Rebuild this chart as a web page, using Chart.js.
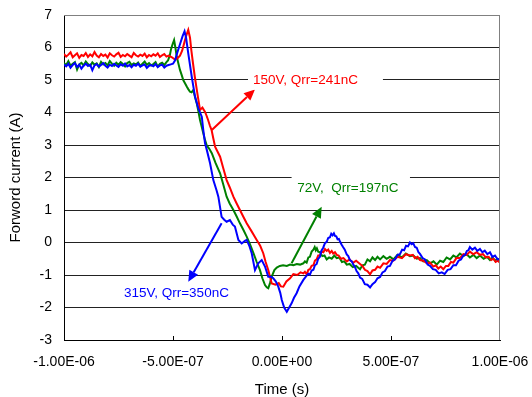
<!DOCTYPE html>
<html lang="en">
<head>
<meta charset="UTF-8">
<title>Forword current</title>
<script src="https://cdn.jsdelivr.net/npm/chart.js@4"></script>
<style>
  html, body { margin: 0; padding: 0; background: #fff; }
  canvas { display: block; }
</style>
</head>
<body>
<canvas id="chart" width="532" height="397"></canvas>
<script>
// time in ns, current in A
const xTicks = [-1000, -500, 0, 500, 1000];
const xMarks = [-500, 0, 500];
const yMin = -3, yMax = 7;

const blue315 = [
  [-1000,5.48],[-990,5.42],[-980,5.50],[-970,5.38],[-960,5.46],[-950,5.52],[-940,5.40],[-930,5.47],[-920,5.35],[-910,5.44],
  [-900,5.50],[-890,5.43],[-880,5.47],[-870,5.30],[-860,5.45],[-850,5.49],[-840,5.41],[-830,5.46],[-820,5.52],[-810,5.44],
  [-800,5.38],[-790,5.47],[-780,5.43],[-770,5.50],[-760,5.45],[-750,5.40],[-740,5.48],[-730,5.44],[-720,5.51],[-710,5.42],
  [-700,5.46],[-690,5.39],[-680,5.47],[-670,5.44],[-660,5.50],[-650,5.41],[-640,5.45],[-630,5.48],[-620,5.37],[-610,5.44],
  [-600,5.46],[-590,5.42],[-580,5.49],[-570,5.40],[-560,5.45],[-550,5.47],[-540,5.38],[-530,5.44],[-520,5.46],[-510,5.48],
  [-500,5.50],[-491,5.60],[-480,5.85],[-468,6.10],[-456,6.35],[-447,6.50],[-440,6.30],[-430,5.82],[-414,5.10],[-399,4.49],
  [-384,4.13],[-368,3.87],[-361,3.46],[-353,3.05],[-345,2.85],[-330,2.44],[-315,1.92],[-300,1.60],[-292,1.41],[-277,0.79],
  [-265,0.70],[-254,0.64],[-239,0.69],[-226,0.55],[-216,0.49],[-200,0.08],[-185,-0.03],[-170,0.05],[-162,0.08],[-150,-0.10],
  [-139,-0.33],[-124,-0.85],[-109,-0.64],[-93,-0.54],[-78,-0.74],[-63,-1.05],[-50,-1.05],[-40,-1.10],[-28,-1.20],[-17,-1.36],
  [-8,-1.55],[-1,-1.77],[10,-2.00],[22,-2.13],[33,-2.00],[44,-1.87],[55,-1.70],[67,-1.56],[80,-1.35],[98,-1.15],
  [113,-1.02],[121,-0.96],[128,-0.99],[136,-0.86],[144,-0.84],[151,-0.70],[159,-0.66],[166,-0.50],[174,-0.44],[181,-0.25],
  [189,-0.16],[197,-0.02],[205,0.02],[212,0.14],[220,0.16],[226,0.27],[232,0.22],[238,0.28],[243,0.20],[249,0.19],
  [255,0.10],[261,0.11],[266,0.03],[273,-0.06],[280,-0.14],[288,-0.22],[297,-0.37],[304,-0.42],[312,-0.55],[320,-0.58],
  [327,-0.68],[335,-0.76],[342,-0.88],[350,-0.95],[358,-1.08],[368,-1.12],[380,-1.28],[392,-1.30],[404,-1.38],[415,-1.28],
  [427,-1.22],[438,-1.10],[450,-1.06],[461,-0.92],[472,-0.88],[484,-0.74],[495,-0.72],[507,-0.56],[518,-0.52],[530,-0.38],
  [541,-0.36],[551,-0.22],[560,-0.24],[569,-0.10],[578,-0.12],[587,0.00],[595,-0.05],[602,-0.02],[610,-0.14],[618,-0.16],
  [626,-0.30],[633,-0.35],[645,-0.48],[656,-0.52],[668,-0.68],[679,-0.72],[692,-0.82],[705,-0.84],[719,-0.95],[733,-0.92],
  [746,-0.97],[760,-0.84],[773,-0.82],[786,-0.70],[798,-0.70],[810,-0.56],[821,-0.52],[832,-0.40],[840,-0.38],[848,-0.26],
  [855,-0.24],[862,-0.14],[873,-0.22],[885,-0.16],[896,-0.26],[908,-0.20],[919,-0.30],[930,-0.25],[942,-0.36],[954,-0.30],
  [965,-0.44],[977,-0.40],[989,-0.52],[1000,-0.50]
];

const red150 = [
  [-1000,5.80],[-990,5.72],[-980,5.78],[-970,5.85],[-960,5.70],[-950,5.76],[-940,5.82],[-930,5.68],[-920,5.77],[-910,5.74],
  [-900,5.83],[-890,5.71],[-880,5.79],[-870,5.73],[-860,5.86],[-850,5.75],[-840,5.70],[-830,5.80],[-820,5.74],[-810,5.78],
  [-800,5.69],[-790,5.82],[-780,5.76],[-770,5.72],[-760,5.79],[-750,5.84],[-740,5.71],[-730,5.77],[-720,5.73],[-710,5.80],
  [-700,5.75],[-690,5.70],[-680,5.83],[-670,5.76],[-660,5.72],[-650,5.78],[-640,5.74],[-630,5.81],[-620,5.70],[-610,5.77],
  [-600,5.73],[-590,5.79],[-580,5.75],[-570,5.82],[-560,5.71],[-550,5.76],[-540,5.80],[-530,5.72],
  [-520,5.75],[-505,5.70],[-490,5.62],[-478,5.68],[-468,5.75],[-458,5.90],[-448,6.15],[-440,6.35],[-430,6.54],[-422,6.30],
  [-416,5.92],[-408,5.50],[-400,5.10],[-392,4.75],[-385,4.45],[-376,4.08],[-365,4.15],[-353,4.02],[-346,3.90],[-339,3.77],
  [-331,3.60],[-323,3.46],[-315,3.20],[-307,2.95],[-296,2.80],[-284,2.64],[-270,2.30],[-254,1.92],[-240,1.70],[-223,1.41],
  [-208,1.20],[-193,1.00],[-178,0.80],[-162,0.59],[-140,0.35],[-116,0.08],[-100,-0.10],[-86,-0.33],[-75,-0.60],[-63,-0.85],
  [-47,-1.26],[-30,-1.30],[-15,-1.25],[-5,-1.35],[6,-1.36],[20,-1.20],[37,-1.10],[52,-0.97],[70,-1.00],[85,-0.92],
  [98,-0.95],[105,-0.90],[113,-0.98],[121,-0.84],[128,-0.82],[136,-0.72],[144,-0.70],[151,-0.56],[159,-0.52],[166,-0.40],
  [174,-0.40],[182,-0.28],[190,-0.30],[197,-0.20],[205,-0.26],[212,-0.22],[220,-0.32],[228,-0.26],[235,-0.34],[243,-0.30],
  [251,-0.38],[260,-0.40],[270,-0.50],[282,-0.48],[297,-0.58],[310,-0.52],[327,-0.62],[340,-0.56],[358,-0.66],[369,-0.72],
  [380,-0.84],[392,-0.88],[404,-0.98],[415,-0.86],[427,-0.84],[438,-0.74],[450,-0.78],[465,-0.64],[480,-0.66],[495,-0.54],
  [511,-0.56],[530,-0.44],[550,-0.48],[568,-0.36],[587,-0.40],[600,-0.38],[610,-0.48],[622,-0.44],[633,-0.54],[648,-0.56],
  [664,-0.64],[679,-0.62],[694,-0.74],[705,-0.70],[717,-0.80],[728,-0.74],[740,-0.82],[752,-0.72],[763,-0.72],[775,-0.60],
  [786,-0.62],[800,-0.48],[816,-0.48],[832,-0.36],[847,-0.38],[862,-0.28],[878,-0.36],[893,-0.30],[908,-0.38],[922,-0.36],
  [935,-0.46],[948,-0.44],[960,-0.54],[970,-0.50],[980,-0.60],[990,-0.56],[1000,-0.62]
];

const green72 = [
  [-1000,5.52],[-990,5.46],[-980,5.58],[-970,5.44],[-960,5.50],[-950,5.55],[-940,5.32],[-930,5.48],[-920,5.53],[-910,5.45],
  [-900,5.57],[-890,5.49],[-880,5.43],[-870,5.54],[-860,5.47],[-850,5.51],[-840,5.40],[-830,5.56],[-820,5.48],[-810,5.52],
  [-800,5.45],[-790,5.58],[-780,5.50],[-770,5.44],[-760,5.53],[-750,5.47],[-740,5.55],[-730,5.49],[-720,5.42],[-710,5.52],
  [-700,5.56],[-690,5.46],[-680,5.51],[-670,5.48],[-660,5.54],[-650,5.43],[-640,5.50],[-630,5.57],[-620,5.47],[-610,5.52],
  [-600,5.45],[-590,5.49],[-580,5.55],[-570,5.41],[-560,5.50],[-550,5.53],[-540,5.46],[-530,5.55],
  [-523,5.60],[-515,5.75],[-509,5.95],[-502,6.10],[-495,6.23],[-489,6.00],[-483,5.72],[-475,5.50],[-468,5.31],[-460,5.15],
  [-453,5.00],[-445,4.90],[-437,4.80],[-430,4.72],[-422,4.64],[-415,4.62],[-407,4.69],[-400,4.50],[-391,4.28],[-384,4.05],
  [-376,3.77],[-368,3.55],[-361,3.36],[-353,3.15],[-345,2.98],[-335,2.90],[-322,2.75],[-305,2.45],[-284,2.13],[-270,1.80],
  [-254,1.41],[-240,1.20],[-223,1.00],[-208,0.80],[-193,0.59],[-178,0.40],[-162,0.18],[-147,-0.05],[-131,-0.33],[-116,-0.60],
  [-101,-0.85],[-90,-1.10],[-78,-1.31],[-70,-1.38],[-63,-1.41],[-55,-1.25],[-47,-1.05],[-35,-0.85],[-24,-0.77],[-10,-0.72],
  [5,-0.70],[22,-0.72],[37,-0.68],[52,-0.70],[68,-0.66],[83,-0.68],[98,-0.64],[105,-0.58],[113,-0.62],[121,-0.46],
  [128,-0.44],[136,-0.28],[144,-0.22],[150,-0.14],[155,-0.24],[160,-0.18],[166,-0.28],[175,-0.30],[185,-0.42],[195,-0.40],
  [205,-0.52],[216,-0.46],[228,-0.50],[240,-0.40],[251,-0.48],[263,-0.46],[275,-0.60],[286,-0.58],[297,-0.68],[310,-0.66],
  [325,-0.76],[340,-0.72],[358,-0.82],[369,-0.70],[380,-0.68],[392,-0.52],[404,-0.58],[415,-0.46],[427,-0.54],[438,-0.44],
  [450,-0.52],[465,-0.42],[480,-0.50],[495,-0.44],[511,-0.52],[530,-0.38],[550,-0.46],[568,-0.34],[587,-0.42],[603,-0.40],
  [618,-0.50],[633,-0.48],[648,-0.58],[664,-0.54],[680,-0.64],[695,-0.58],[710,-0.68],[725,-0.56],[740,-0.60],[755,-0.46],
  [771,-0.52],[786,-0.40],[800,-0.46],[816,-0.34],[832,-0.42],[847,-0.36],[862,-0.46],[878,-0.38],[893,-0.48],[908,-0.40],
  [925,-0.50],[940,-0.44],[954,-0.54],[966,-0.46],[977,-0.56],[989,-0.50],[1000,-0.58]
];

// callouts, in data units (ns, A)
const notes = [
  { text: '150V, Qrr=241nC', color: '#ff0000', at: [-133, 5.0], box: [-156, 463, 5.3, 4.7], from: [-322, 3.46], to: [-124, 4.71] },
  { text: '72V,  Qrr=197nC', color: '#008000', at: [70, 1.67], box: [44, 587, 2.12, 1.25], from: [44, -0.64], to: [182, 1.1] },
  { text: '315V, Qrr=350nC', color: '#0000ff', at: [-725, -1.56], box: null, from: [-277, 0.59], to: [-430, -1.21] }
];

const FONT = "'Liberation Sans', Arial, sans-serif";

function sci(v) {
  if (v === 0) return '0.00E+00';
  const s = v * 1e-9;
  const e = Math.floor(Math.log10(Math.abs(s)) + 1e-9);
  const m = s / Math.pow(10, e);
  const ee = String(Math.abs(e)).padStart(2, '0');
  return m.toFixed(2) + 'E' + (e < 0 ? '-' : '+') + ee;
}

function arrow(ctx, x0, y0, x1, y1, color) {
  const ang = Math.atan2(y1 - y0, x1 - x0);
  const head = 11, half = 5;
  const bx = x1 - head * Math.cos(ang), by = y1 - head * Math.sin(ang);
  ctx.strokeStyle = color;
  ctx.fillStyle = color;
  ctx.lineWidth = 2;
  ctx.beginPath();
  ctx.moveTo(x0, y0);
  ctx.lineTo(bx, by);
  ctx.stroke();
  ctx.beginPath();
  ctx.moveTo(x1, y1);
  ctx.lineTo(bx + half * Math.sin(ang), by - half * Math.cos(ang));
  ctx.lineTo(bx - half * Math.sin(ang), by + half * Math.cos(ang));
  ctx.closePath();
  ctx.fill();
}

const extras = {
  id: 'extras',
  afterDatasetsDraw(chart) {
    const { ctx, chartArea: a, scales: { x, y } } = chart;
    ctx.save();

    // grey frame on top and right
    ctx.strokeStyle = '#808080';
    ctx.lineWidth = 1;
    ctx.beginPath();
    ctx.moveTo(a.left, a.top + 0.5);
    ctx.lineTo(a.right - 0.5, a.top + 0.5);
    ctx.lineTo(a.right - 0.5, a.bottom);
    ctx.stroke();

    // small inward tick marks on the time axis
    ctx.strokeStyle = '#000';
    xMarks.forEach(v => {
      const px = Math.round(x.getPixelForValue(v)) + 0.5;
      ctx.beginPath();
      ctx.moveTo(px, a.bottom);
      ctx.lineTo(px, a.bottom - 4);
      ctx.stroke();
    });

    ctx.font = '13.5px ' + FONT;
    ctx.textBaseline = 'middle';
    ctx.textAlign = 'left';
    notes.forEach(n => {
      arrow(ctx, x.getPixelForValue(n.from[0]), y.getPixelForValue(n.from[1]),
        x.getPixelForValue(n.to[0]), y.getPixelForValue(n.to[1]), n.color);
      if (n.box) {
        const l = x.getPixelForValue(n.box[0]), r = x.getPixelForValue(n.box[1]);
        const t = y.getPixelForValue(n.box[2]), b = y.getPixelForValue(n.box[3]);
        ctx.fillStyle = '#fff';
        ctx.fillRect(l, t, r - l, b - t);
      }
      ctx.fillStyle = n.color;
      ctx.fillText(n.text, x.getPixelForValue(n.at[0]), y.getPixelForValue(n.at[1]));
    });
    ctx.restore();
  }
};

const line = (data, color) => ({
  data: data.map(([t, i]) => ({ x: t, y: i })),
  borderColor: color,
  borderWidth: 2,
  pointRadius: 0,
  tension: 0,
  fill: false
});

new Chart(document.getElementById('chart'), {
  type: 'line',
  data: {
    datasets: [
      line(blue315, '#0000ff'),
      line(red150, '#ff0000'),
      line(green72, '#008000')
    ]
  },
  options: {
    responsive: false,
    animation: false,
    events: [],
    layout: { padding: { left: 0, right: 32, top: 15, bottom: 0 } },
    plugins: { legend: { display: false }, tooltip: { enabled: false } },
    scales: {
      x: {
        type: 'linear',
        min: -1000,
        max: 1000,
        afterBuildTicks: s => { s.ticks = xTicks.map(v => ({ value: v })); },
        afterFit: s => { s.height = 57; s.paddingLeft = 0; s.paddingRight = 0; },
        grid: { display: false, drawTicks: false },
        border: { display: true, color: '#000', width: 1 },
        ticks: {
          padding: 14,
          maxRotation: 0,
          autoSkip: false,
          color: '#000',
          font: { family: FONT, size: 14 },
          callback: v => sci(v)
        },
        title: {
          display: true,
          text: 'Time (s)',
          color: '#000',
          font: { family: FONT, size: 15, lineHeight: 1 },
          padding: { top: 0, bottom: 0 }
        }
      },
      y: {
        min: yMin,
        max: yMax,
        afterFit: s => { s.width = 64; s.paddingTop = 0; s.paddingBottom = 0; },
        grid: {
          drawTicks: false,
          color: c => (c.tick && c.tick.value === yMax) ? '#808080' : '#222',
          lineWidth: 1
        },
        border: { display: true, color: '#000', width: 1 },
        ticks: {
          stepSize: 1,
          padding: 12,
          color: '#000',
          font: { family: FONT, size: 14 }
        },
        title: {
          display: true,
          text: 'Forword current (A)',
          color: '#000',
          font: { family: FONT, size: 15 },
          padding: { top: 7, bottom: 0 }
        }
      }
    }
  },
  plugins: [extras]
});
</script>
</body>
</html>
